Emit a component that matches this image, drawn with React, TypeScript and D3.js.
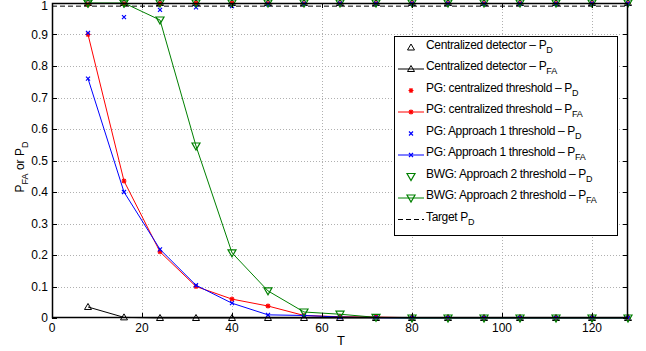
import { useEffect, useRef } from 'react';
import * as d3 from 'd3';

const T = [8, 16, 24, 32, 40, 48, 56, 64, 72, 80, 88, 96, 104, 112, 120, 128];

const centralPD = [1, 1, 1, 1, 1, 1, 1, 1, 1, 1, 1, 1, 1, 1, 1, 1];
const centralPFA = [0.035, 0.002, 0, 0, 0, 0, 0, 0, 0, 0, 0, 0, 0, 0, 0, 0];
const pgCentralPD = [0.995, 0.997, 0.998, 0.999, 0.999, 0.998, 0.997, 0.997, 0.998, 0.998, 0.998, 0.998, 0.998, 0.998, 0.998, 0.998];
const pgCentralPFA = [0.9, 0.435, 0.21, 0.1, 0.06, 0.038, 0.008, 0.004, 0.003, 0.001, 0, 0, 0, 0, 0, 0];
const pgA1PD = [0.905, 0.955, 0.978, 0.986, 0.99, 0.996, 0.997, 0.998, 0.998, 0.998, 0.998, 0.997, 0.997, 0.997, 0.998, 0.998];
const pgA1PFA = [0.76, 0.4, 0.218, 0.104, 0.047, 0.01, 0.008, 0.003, 0.001, 0, 0, 0, 0, 0, 0, 0];
const bwgPD = [1, 1, 1, 1, 1, 1, 1, 1, 1, 1, 1, 1, 1, 1, 1, 1];
const bwgPFA = [1, 1, 0.946, 0.546, 0.207, 0.086, 0.019, 0.012, 0.002, 0, 0, 0, 0, 0, 0, 0];
const targetPD = 0.99;

const xTicks = [0, 20, 40, 60, 80, 100, 120];
const yTicks = [0, 0.1, 0.2, 0.3, 0.4, 0.5, 0.6, 0.7, 0.8, 0.9, 1];

const series = [
    { name: 'Centralized detector – P', sub: 'D', values: centralPD, color: '#000', marker: 'tri', line: false },
    { name: 'Centralized detector – P', sub: 'FA', values: centralPFA, color: '#000', marker: 'tri', line: true },
    { name: 'PG: centralized threshold – P', sub: 'D', values: pgCentralPD, color: '#ff0000', marker: 'star', line: false },
    { name: 'PG: centralized threshold – P', sub: 'FA', values: pgCentralPFA, color: '#ff0000', marker: 'star', line: true },
    { name: 'PG: Approach 1 threshold – P', sub: 'D', values: pgA1PD, color: '#0000ff', marker: 'x', line: false },
    { name: 'PG: Approach 1 threshold – P', sub: 'FA', values: pgA1PFA, color: '#0000ff', marker: 'x', line: true },
    { name: 'BWG: Approach 2 threshold – P', sub: 'D', values: bwgPD, color: '#008000', marker: 'tridown', line: false },
    { name: 'BWG: Approach 2 threshold – P', sub: 'FA', values: bwgPFA, color: '#008000', marker: 'tridown', line: true },
];

const FONT = '"Liberation Sans", Arial, sans-serif';

function drawMarker(g, type, x, y, color) {
    if (type === 'tri') {
        g.append('path')
            .attr('d', `M${x},${y - 3.5}L${x + 3.5},${y + 2.5}L${x - 3.5},${y + 2.5}Z`)
            .attr('fill', 'none').attr('stroke', color).attr('stroke-width', 1);
    } else if (type === 'tridown') {
        g.append('path')
            .attr('d', `M${x - 4},${y - 3}L${x + 4},${y - 3}L${x},${y + 4}Z`)
            .attr('fill', 'none').attr('stroke', color).attr('stroke-width', 1.2);
    } else if (type === 'star') {
        const r = 2.5;
        g.append('path')
            .attr('d', `M${x - r},${y}L${x + r},${y}M${x},${y - r}L${x},${y + r}M${x - 1.8},${y - 1.8}L${x + 1.8},${y + 1.8}M${x - 1.8},${y + 1.8}L${x + 1.8},${y - 1.8}`)
            .attr('stroke', color).attr('stroke-width', 1.2);
    } else if (type === 'x') {
        const r = 2;
        g.append('path')
            .attr('d', `M${x - r},${y - r}L${x + r},${y + r}M${x - r},${y + r}L${x + r},${y - r}`)
            .attr('stroke', color).attr('stroke-width', 1.2);
    }
}

const App = () => {
    const svgRef = useRef(null);

    useEffect(() => {
        const svg = d3.select(svgRef.current);
        svg.selectAll('*').remove();

        const left = 52, right = 628, top = 3, bottom = 318;
        const x = d3.scaleLinear().domain([0, 128]).range([left, right]);
        const y = d3.scaleLinear().domain([0, 1]).range([bottom, top]);

        svg.append('rect').attr('x', 0).attr('y', 0).attr('width', 646).attr('height', 351).attr('fill', '#fff');

        // grid
        const grid = svg.append('g').attr('stroke', '#b0b0b0').attr('stroke-width', 1).attr('stroke-dasharray', '1,2');
        xTicks.slice(1).forEach(t => {
            grid.append('line').attr('x1', x(t) + 0.5).attr('x2', x(t) + 0.5).attr('y1', top).attr('y2', bottom);
        });
        yTicks.slice(1, -1).forEach(t => {
            grid.append('line').attr('x1', left).attr('x2', right).attr('y1', Math.round(y(t)) + 0.5).attr('y2', Math.round(y(t)) + 0.5);
        });

        // target line
        svg.append('line')
            .attr('x1', left).attr('x2', right)
            .attr('y1', y(targetPD)).attr('y2', y(targetPD))
            .attr('stroke', '#000').attr('stroke-width', 1).attr('stroke-dasharray', '5,3');

        // series
        const line = d3.line().x((d, i) => x(T[i])).y(d => y(d));
        series.forEach(s => {
            const g = svg.append('g');
            if (s.line) {
                g.append('path').datum(s.values).attr('d', line)
                    .attr('fill', 'none').attr('stroke', s.color).attr('stroke-width', 1);
            }
            s.values.forEach((v, i) => drawMarker(g, s.marker, x(T[i]), y(v), s.color));
        });

        // axes box and ticks
        const ax = svg.append('g').attr('stroke', '#000').attr('stroke-width', 1);
        ax.append('rect').attr('x', left + 0.5).attr('y', top + 0.5).attr('width', right - left - 1).attr('height', bottom - top - 1)
            .attr('fill', 'none').attr('stroke-width', 1.5);
        xTicks.forEach(t => {
            ax.append('line').attr('x1', x(t) + 0.5).attr('x2', x(t) + 0.5).attr('y1', bottom).attr('y2', bottom - 5);
            ax.append('line').attr('x1', x(t) + 0.5).attr('x2', x(t) + 0.5).attr('y1', top).attr('y2', top + 5);
        });
        yTicks.forEach(t => {
            const yy = Math.round(y(t)) + 0.5;
            ax.append('line').attr('x1', left).attr('x2', left + 5).attr('y1', yy).attr('y2', yy);
            ax.append('line').attr('x1', right).attr('x2', right - 5).attr('y1', yy).attr('y2', yy);
        });

        const txt = svg.append('g').attr('font-family', FONT).attr('font-size', 12).attr('fill', '#000');
        xTicks.forEach(t => {
            txt.append('text').attr('x', x(t)).attr('y', 332).attr('text-anchor', 'middle').text(t);
        });
        yTicks.forEach(t => {
            txt.append('text').attr('x', left - 4).attr('y', Math.max(y(t) + 4, 10)).attr('text-anchor', 'end').text(d3.format('~g')(t));
        });
        txt.append('text').attr('x', x(64) + 1).attr('y', 345).attr('text-anchor', 'middle').attr('font-size', 13).text('T');

        const yl = txt.append('text').attr('transform', `translate(24,167) rotate(-90)`)
            .attr('text-anchor', 'middle').attr('font-size', 12);
        yl.append('tspan').text('P');
        yl.append('tspan').attr('font-size', 9).attr('dy', 4).text('FA');
        yl.append('tspan').attr('dy', -4).text(' or P');
        yl.append('tspan').attr('font-size', 9).attr('dy', 4).text('D');

        // legend
        const lg = svg.append('g');
        lg.append('rect').attr('x', 394.5).attr('y', 36.5).attr('width', 223).attr('height', 199)
            .attr('fill', '#fff').attr('stroke', '#000').attr('stroke-width', 1);
        const rowY = i => 47.5 + i * 21.5;
        const entries = [...series, { name: 'Target P', sub: 'D', color: '#000', marker: 'none', line: true, dashed: true }];
        entries.forEach((s, i) => {
            const yy = rowY(i);
            if (s.line) {
                lg.append('line').attr('x1', 398).attr('x2', 424).attr('y1', yy).attr('y2', yy)
                    .attr('stroke', s.color).attr('stroke-width', 1)
                    .attr('stroke-dasharray', s.dashed ? '5,3' : null);
            }
            if (s.marker !== 'none') drawMarker(lg, s.marker, 411, yy, s.color);
            const t = lg.append('text').attr('x', 426).attr('y', yy + 1).attr('font-family', FONT)
                .attr('font-size', 12).attr('letter-spacing', -0.35).attr('fill', '#000');
            t.append('tspan').text(s.name);
            t.append('tspan').attr('font-size', 9).attr('dy', 4).attr('letter-spacing', -0.2).text(s.sub);
        });
    }, []);

    return (
        <div style={{ position: 'absolute', left: 0, top: 0 }}>
            <svg ref={svgRef} width={646} height={351} style={{ display: 'block' }}></svg>
        </div>
    );
};

export default App;
